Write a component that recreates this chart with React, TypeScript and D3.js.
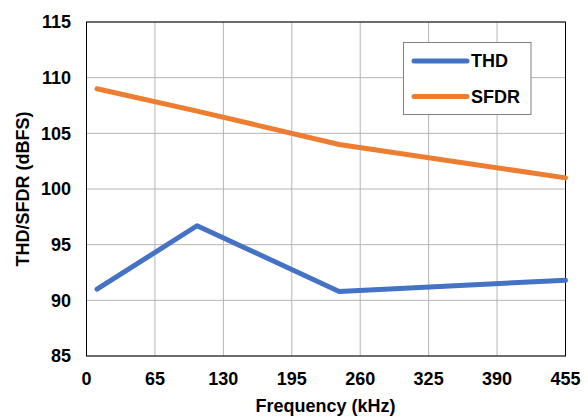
import React from "react";
import * as d3 from "d3";

const freqs = [10, 105, 240, 455];
const thd = [91.0, 96.7, 90.8, 91.8];
const sfdr = [109.0, 107.0, 104.0, 101.0];
const xTicks = [0, 65, 130, 195, 260, 325, 390, 455];
const yTicks = [85, 90, 95, 100, 105, 110, 115];
const seriesNames = ["THD", "SFDR"];
const seriesColors = ["#4472C4", "#ED7D31"];

export default function App() {
  const W = 588, H = 417;
  const left = 86.5, right = 565.5, top = 22, bottom = 356;
  const x = d3.scaleLinear().domain([0, 455]).range([left, right]);
  const y = d3.scaleLinear().domain([85, 115]).range([bottom, top]);
  const line = d3.line<[number, number]>().x(d => x(d[0])).y(d => y(d[1]));
  const series = [thd, sfdr].map(vals => freqs.map((f, i) => [f, vals[i]] as [number, number]));
  const font = "Liberation Sans, Arial, sans-serif";
  const fs = 18;
  return (
    <svg width={W} height={H} style={{ position: "absolute", left: 0, top: 0 }} fontFamily={font}>
      <rect x={0} y={0} width={W} height={H} fill="#fff" />
      {xTicks.map(t => (
        <line key={"gx" + t} x1={x(t)} x2={x(t)} y1={top} y2={bottom} stroke="#b4b4b4" strokeWidth={1} />
      ))}
      {yTicks.map(t => (
        <line key={"gy" + t} x1={left} x2={right} y1={y(t)} y2={y(t)} stroke="#b4b4b4" strokeWidth={1} />
      ))}
      <rect x={left} y={top} width={right - left} height={bottom - top} fill="none" stroke="#000" strokeWidth={1} />
      {yTicks.map(t => (
        <text key={"ty" + t} x={71} y={y(t)} dy="0.36em" textAnchor="end" fontSize={fs} fontWeight="bold" fill="#000">{t}</text>
      ))}
      {xTicks.map(t => (
        <text key={"tx" + t} x={x(t)} y={384.5} textAnchor="middle" fontSize={fs} fontWeight="bold" fill="#000">{t}</text>
      ))}
      {series.map((s, i) => (
        <path key={"s" + i} d={line(s) || ""} fill="none" stroke={seriesColors[i]} strokeWidth={5} strokeLinecap="round" strokeLinejoin="round" />
      ))}
      <rect x={403.5} y={42.5} width={127.5} height={72} fill="#fff" stroke="#808080" strokeWidth={1} />
      {seriesNames.map((n, i) => (
        <g key={"lg" + i}>
          <line x1={414} x2={467} y1={61 + i * 35.5} y2={61 + i * 35.5} stroke={seriesColors[i]} strokeWidth={5} strokeLinecap="round" />
          <text x={471} y={61 + i * 35.5} dy="0.36em" fontSize={fs} fontWeight="bold" fill="#000">{n}</text>
        </g>
      ))}
      <text x={325.5} y={412} textAnchor="middle" fontSize={fs} fontWeight="bold" fill="#000">Frequency (kHz)</text>
      <text transform={`translate(29,${(top + bottom) / 2}) rotate(-90)`} textAnchor="middle" fontSize={fs} fontWeight="bold" fill="#000">THD/SFDR (dBFS)</text>
    </svg>
  );
}
